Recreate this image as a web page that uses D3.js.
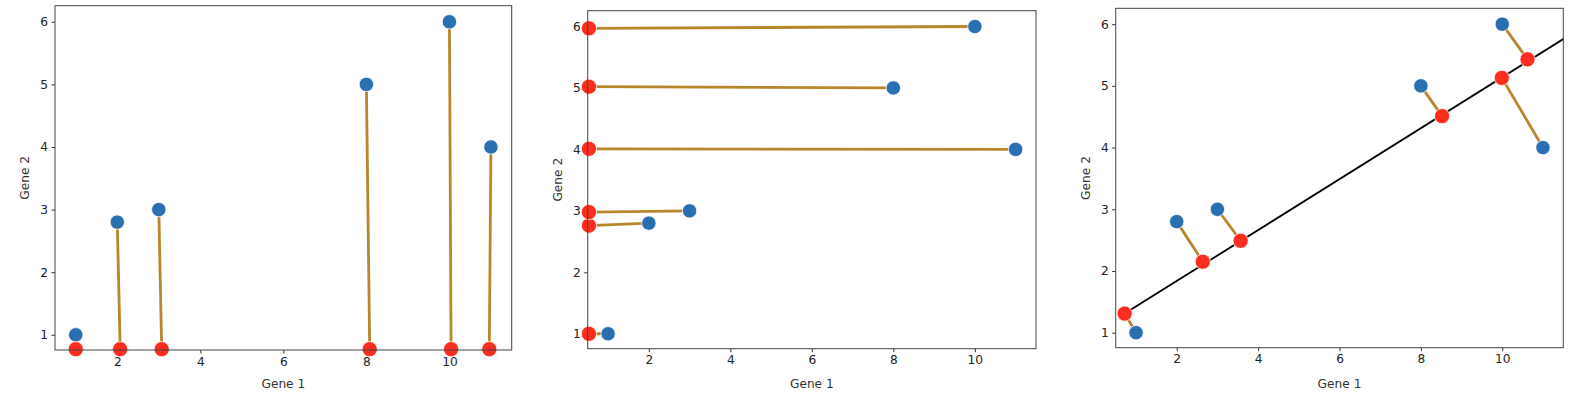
<!DOCTYPE html>
<html>
<head>
<meta charset="utf-8">
<style>
  body { margin: 0; background: #fff; }
  svg { display: block; font-family: "DejaVu Sans", sans-serif; }
</style>
</head>
<body>
<svg width="1592" height="394"></svg>
<script src="https://d3js.org/d3.v7.min.js"></script>
<script>

// original points
var geneX = [1, 2, 3, 8, 10, 11],
    geneY = [1, 2.8, 3, 5, 6, 4];

// projections onto (almost) the x axis
var projAx = [1.0, 2.07, 3.07, 8.08, 10.04, 10.96],
    projAy = [0.77, 0.77, 0.77, 0.77, 0.77, 0.77];

// projections onto (almost) the y axis
var projBx = [0.53, 0.53, 0.53, 0.53, 0.53, 0.53],
    projBy = [1.0, 2.76, 2.98, 5.02, 5.97, 4.01];

// projections onto the best fit line
var projCx = [0.72, 2.64, 3.57, 8.52, 10.62, 9.99],
    projCy = [1.31, 2.15, 2.49, 4.51, 5.43, 5.13];

var fitX = [0.72, 11.6],
    fitY = [1.31, 5.80];

var xTicks = [2, 4, 6, 8, 10],
    yTicks = [1, 2, 3, 4, 5, 6];

var xDomain = [0.5, 11.5],
    yDomain = [0.757, 6.257];

var svg = d3.select("svg");

var panels = [
  {left: 55, right: 511.7, top: 5.7, bottom: 350, px: projAx, py: projAy},
  {left: 587.7, right: 1036, top: 10.7, bottom: 348.7, px: projBx, py: projBy},
  {left: 1115.7, right: 1563.3, top: 8.3, bottom: 347.7, px: projCx, py: projCy, fit: true}
];

panels.forEach(function(p, i) {
  var x = d3.scaleLinear().domain(xDomain).range([p.left, p.right]),
      y = d3.scaleLinear().domain(yDomain).range([p.bottom, p.top]);

  var g = svg.append("g");

  g.append("clipPath").attr("id", "clip" + i)
    .append("rect")
      .attr("x", p.left).attr("y", p.top)
      .attr("width", p.right - p.left).attr("height", p.bottom - p.top);

  // axes
  var xa = g.append("g")
      .attr("transform", "translate(0," + p.bottom + ")")
      .call(d3.axisBottom(x).tickValues(xTicks).tickSize(3.5).tickPadding(3.5).tickFormat(d3.format("d")));
  var ya = g.append("g")
      .attr("transform", "translate(" + p.left + ",0)")
      .call(d3.axisLeft(y).tickValues(yTicks).tickSize(3.5).tickPadding(3.5).tickFormat(d3.format("d")));
  [xa, ya].forEach(function(a) {
    a.select(".domain").remove();
    a.selectAll("line").attr("stroke", "#333");
    a.selectAll("text").attr("font-size", 12.2).attr("fill", "#222").attr("font-family", "DejaVu Sans");
  });

  var plot = g.append("g").attr("clip-path", "url(#clip" + i + ")");

  if (p.fit) {
    plot.append("line")
      .attr("x1", x(fitX[0])).attr("y1", y(fitY[0]))
      .attr("x2", x(fitX[1])).attr("y2", y(fitY[1]))
      .attr("stroke", "#000").attr("stroke-width", 1.8);
  }

  plot.selectAll(".proj")
    .data(geneX)
    .enter().append("line")
      .attr("x1", function(d, j) { return x(geneX[j]); })
      .attr("y1", function(d, j) { return y(geneY[j]); })
      .attr("x2", function(d, j) { return x(p.px[j]); })
      .attr("y2", function(d, j) { return y(p.py[j]); })
      .attr("stroke", "#b8862b")
      .attr("stroke-width", 2.8);

  g.selectAll(".blue")
    .data(geneX)
    .enter().append("circle")
      .attr("cx", function(d, j) { return x(geneX[j]); })
      .attr("cy", function(d, j) { return y(geneY[j]); })
      .attr("r", 7.2)
      .attr("fill", "#2a6fb0")
      .attr("stroke", "#fff").attr("stroke-width", 0.8);

  g.selectAll(".red")
    .data(geneX)
    .enter().append("circle")
      .attr("cx", function(d, j) { return x(p.px[j]); })
      .attr("cy", function(d, j) { return y(p.py[j]); })
      .attr("r", 7.6)
      .attr("fill", "#fa2d1e")
      .attr("stroke", "#fff").attr("stroke-width", 0.8);

  // frame
  g.append("rect")
    .attr("x", p.left).attr("y", p.top)
    .attr("width", p.right - p.left).attr("height", p.bottom - p.top)
    .attr("fill", "none").attr("stroke", "#444").attr("stroke-width", 1);

  g.append("text")
    .attr("x", (p.left + p.right) / 2).attr("y", 388)
    .attr("text-anchor", "middle")
    .attr("font-size", 12.2).attr("fill", "#333")
    .text("Gene 1");

  g.append("text")
    .attr("transform", "translate(" + (p.left - 26) + "," + ((p.top + p.bottom) / 2) + ") rotate(-90)")
    .attr("text-anchor", "middle")
    .attr("font-size", 12.2).attr("fill", "#333")
    .text("Gene 2");
});

</script>
</body>
</html>
